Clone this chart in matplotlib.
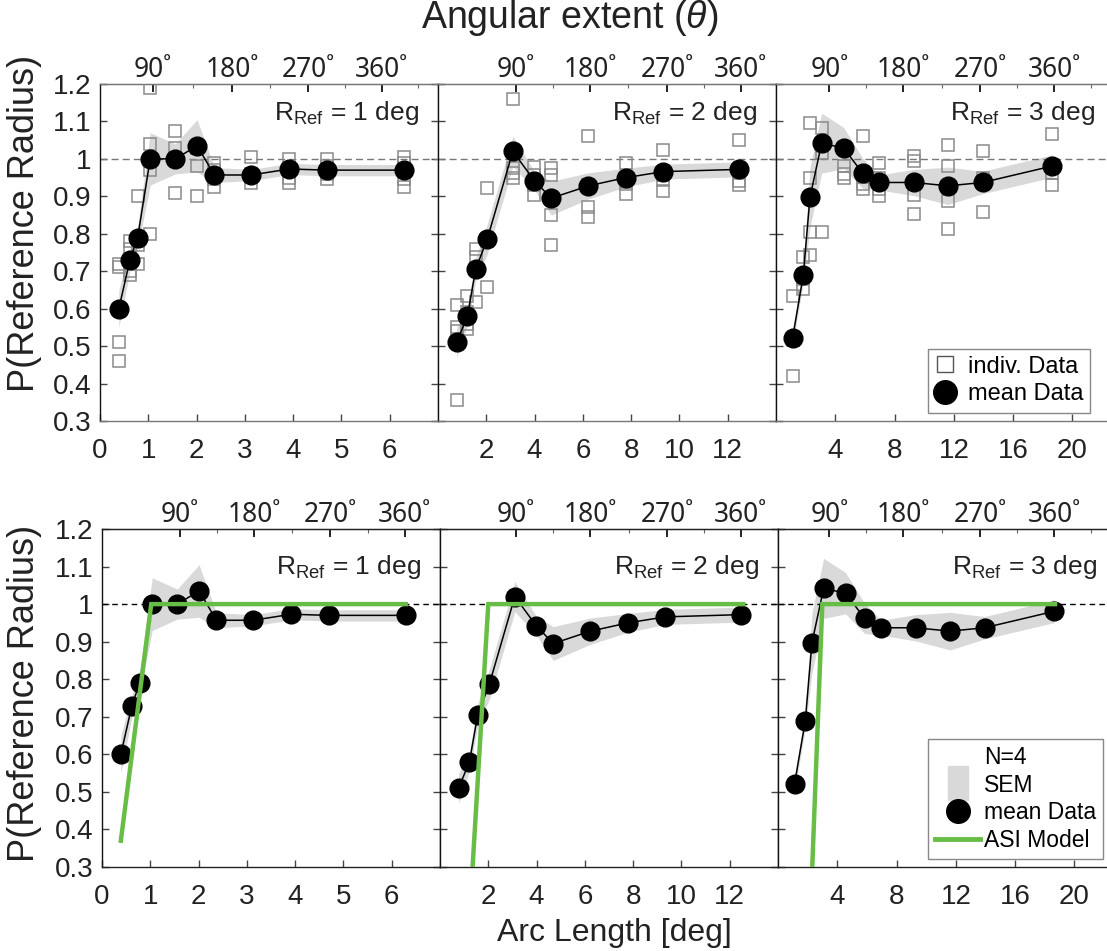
import matplotlib
matplotlib.use("Agg")
import matplotlib.pyplot as plt
from matplotlib.lines import Line2D
import numpy as np

plt.rcParams["font.family"] = ["Liberation Sans", "DejaVu Sans"]
plt.rcParams["mathtext.fontset"] = "custom"
plt.rcParams["mathtext.rm"] = "Liberation Sans"
plt.rcParams["mathtext.it"] = "Liberation Sans:italic"

# ----------------------------------------------------------------------------
# Data
# ----------------------------------------------------------------------------
RADII = [1, 2, 3]

ARC_R1 = [0.39, 0.62, 0.78, 1.04, 1.56, 2.01, 2.37, 3.13, 3.92, 4.70, 6.29]
ARC_R2 = [0.77, 1.22, 1.56, 2.04, 3.10, 3.99, 4.69, 6.23, 7.78, 9.33, 12.47]
ARC_R3 = [1.12, 1.84, 2.29, 3.08, 4.56, 5.84, 6.96, 9.28, 11.61, 13.93, 18.65]

MEAN_R1 = [0.60, 0.73, 0.79, 1.00, 1.00, 1.035, 0.957, 0.957, 0.973, 0.97, 0.97]
MEAN_R2 = [0.51, 0.58, 0.705, 0.786, 1.02, 0.942, 0.895, 0.928, 0.95, 0.966, 0.972]
MEAN_R3 = [0.522, 0.689, 0.897, 1.042, 1.029, 0.962, 0.937, 0.937, 0.928, 0.937, 0.981]

SEM_R1 = [0.05, 0.03, 0.03, 0.07, 0.04, 0.07, 0.02, 0.015, 0.015, 0.015, 0.015]
SEM_R2 = [0.04, 0.025, 0.03, 0.04, 0.04, 0.025, 0.045, 0.035, 0.025, 0.02, 0.02]
SEM_R3 = [0.02, 0.02, 0.08, 0.08, 0.055, 0.04, 0.02, 0.035, 0.05, 0.03, 0.03]

# individual subjects (N=4), one row per arc length
IND_R1 = [[0.72, 0.71, 0.51, 0.46], [0.78, 0.76, 0.69, 0.70], [0.90, 0.78, 0.72, 0.77],
          [1.19, 1.04, 0.97, 0.80], [1.075, 1.03, 1.00, 0.91], [1.03, 1.03, 0.98, 0.90],
          [0.99, 0.97, 0.945, 0.925], [1.005, 0.96, 0.955, 0.935], [1.00, 0.97, 0.95, 0.935],
          [1.00, 0.98, 0.96, 0.945], [1.005, 0.99, 0.945, 0.925]]
IND_R2 = [[0.61, 0.55, 0.54, 0.355], [0.635, 0.59, 0.56, 0.546], [0.76, 0.738, 0.705, 0.617],
          [0.921, 0.786, 0.78, 0.658], [1.16, 0.975, 0.962, 0.949], [0.979, 0.957, 0.93, 0.903],
          [0.975, 0.957, 0.85, 0.77], [1.06, 0.93, 0.872, 0.845], [0.99, 0.95, 0.934, 0.907],
          [1.024, 0.957, 0.944, 0.915], [1.051, 0.966, 0.94, 0.931]]
IND_R3 = [[0.635, 0.52, 0.515, 0.421], [0.738, 0.689, 0.68, 0.653], [1.096, 0.948, 0.805, 0.742],
          [1.082, 1.035, 1.017, 0.805], [1.03, 0.98, 0.96, 0.95], [1.06, 0.952, 0.934, 0.92],
          [0.989, 0.948, 0.92, 0.902], [1.008, 0.995, 0.903, 0.854], [1.038, 0.98, 0.888, 0.812],
          [1.02, 0.948, 0.935, 0.859], [1.067, 0.975, 0.962, 0.93]]

# ASI model (piecewise linear)
ASI_X_R1 = [0.39, 1.02, 6.29]
ASI_Y_R1 = [0.37, 1.0, 1.0]
ASI_X_R2 = [1.35, 2.0, 12.56]
ASI_Y_R2 = [0.30, 1.0, 1.0]
ASI_X_R3 = [2.31, 2.99, 18.69]
ASI_Y_R3 = [0.30, 1.0, 1.0]

# axis ticks
XLIMS = [7, 14, 22.8]
XTICKS = [[0, 1, 2, 3, 4, 5, 6], [2, 4, 6, 8, 10, 12], [4, 8, 12, 16, 20]]
YTICKS = [0.3, 0.4, 0.5, 0.6, 0.7, 0.8, 0.9, 1.0, 1.1, 1.2]
DEG_LABELS = ["90˚", "180˚", "270˚", "360˚"]
DEG_POS_TOP = [[1.10, 2.74, 4.31, 5.83], [3.22, 6.30, 9.48, 12.54], [3.60, 8.59, 13.77, 18.76]]
DEG_POS_BOT = [[1.61, 3.15, 4.73, 6.27], [3.15, 6.21, 9.42, 12.46], [3.46, 8.45, 13.63, 18.62]]

ARCS = [ARC_R1, ARC_R2, ARC_R3]
MEANS = [MEAN_R1, MEAN_R2, MEAN_R3]
SEMS = [SEM_R1, SEM_R2, SEM_R3]
INDS = [IND_R1, IND_R2, IND_R3]
ASI_X = [ASI_X_R1, ASI_X_R2, ASI_X_R3]
ASI_Y = [ASI_Y_R1, ASI_Y_R2, ASI_Y_R3]

GREEN = "#67bd45"
SEM_GREY = "#d9d9d9"
W, H = 1107, 951


def px_axes(fig, left, top, right, bottom):
    return fig.add_axes([left / W, 1 - bottom / H, (right - left) / W, (bottom - top) / H])


def style_axes(ax, i, deg_pos, spine_col, r_y):
    ax.set_xlim(0, XLIMS[i])
    ax.set_ylim(0.3, 1.2)
    ax.set_xticks(XTICKS[i])
    ax.set_xticklabels([str(t) for t in XTICKS[i]])
    ax.set_yticks(YTICKS)
    if i == 0:
        ax.set_yticklabels([f"{v:g}" for v in YTICKS])
    else:
        ax.set_yticklabels([])
    ax.tick_params(direction="in", length=5, width=1, labelsize=20, pad=12,
                   right=True, color="#444444", labelcolor="#222222")
    ax.tick_params(axis="y", pad=6)
    for s in ax.spines.values():
        s.set_color(spine_col)
        s.set_linewidth(1.0)
    ax.spines["left"].set_color("#111111")
    sec = ax.secondary_xaxis("top")
    sec.set_xticks(deg_pos)
    sec.set_xticklabels(DEG_LABELS, fontfamily="Noto Sans")
    mids = [(a + b) / 2 for a, b in zip(deg_pos[:-1], deg_pos[1:])]
    mids.append(deg_pos[-1] + (deg_pos[-1] - deg_pos[-2]) / 2)
    sec.set_xticks(mids, minor=True)
    sec.tick_params(direction="in", length=6, width=1.4, labelsize=19, pad=0,
                    color="#222222", labelcolor="#222222")
    sec.tick_params(which="minor", direction="in", length=3, width=0.8, color="#666666")
    sec.spines["top"].set_color(spine_col)
    ax.text(0.944, r_y, r"R$_{\mathrm{Ref}}$ = %d deg" % RADII[i],
            transform=ax.transAxes, ha="right", va="baseline", fontsize=19, color="#222222")


fig = plt.figure(figsize=(W / 100, H / 100), dpi=100)

# ---------------------------------------------------------------- top row
top_cols = [(100, 438), (438, 776), (776, 1114)]
for i in range(3):
    ax = px_axes(fig, top_cols[i][0], 84, top_cols[i][1], 421)
    x = np.array(ARCS[i]); m = np.array(MEANS[i]); s = np.array(SEMS[i])
    ax.fill_between(x, m - s, m + s, color=SEM_GREY, lw=0, zorder=1)
    ax.axhline(1.0, color="#777777", lw=1.0, ls=(0, (5, 3)), zorder=2)
    ind = np.array(INDS[i])
    for k in range(ind.shape[1]):
        ax.plot(x, ind[:, k], ls="none", marker="s", ms=8.5, mfc="none",
                mec="#8a8a8a", mew=1.1, zorder=3)
    ax.plot(x, m, color="black", lw=1.1, marker="o", ms=13.5, zorder=4)
    style_axes(ax, i, DEG_POS_TOP[i], "#777777", 0.893)
    if i == 2:
        handles = [Line2D([], [], ls="none", marker="s", ms=11, mfc="none", mec="#555555",
                          label="indiv. Data"),
                   Line2D([], [], ls="none", marker="o", ms=17, color="black", label="mean Data")]
        leg = ax.legend(handles=handles, loc="lower right", bbox_to_anchor=(0.93, 0.025),
                        fontsize=17, frameon=True, fancybox=False, framealpha=1,
                        edgecolor="#888888", handlelength=0.9, handletextpad=0.5,
                        borderpad=0.3, labelspacing=0.25, borderaxespad=0.0)
        leg.get_frame().set_linewidth(1.0)

# ---------------------------------------------------------------- bottom row
bot_cols = [(102, 440), (440, 778), (778, 1116)]
for i in range(3):
    ax = px_axes(fig, bot_cols[i][0], 529, bot_cols[i][1], 867)
    x = np.array(ARCS[i]); m = np.array(MEANS[i]); s = np.array(SEMS[i])
    ax.fill_between(x, m - s, m + s, color=SEM_GREY, lw=0, zorder=1)
    ax.axhline(1.0, color="black", lw=1.0, ls=(0, (4, 3)), zorder=2)
    ax.plot(x, m, color="black", lw=1.1, marker="o", ms=13.5, zorder=3)
    ax.plot(ASI_X[i], ASI_Y[i], color=GREEN, lw=3.2, zorder=4, solid_joinstyle="miter")
    style_axes(ax, i, DEG_POS_BOT[i], "#222222", 0.866)
    if i == 2:
        sem_marker = [(-0.28, -0.5), (0.28, -0.5), (0.28, 0.5), (-0.28, 0.5), (-0.28, -0.5)]
        handles = [Line2D([], [], ls="none", label="N=4"),
                   Line2D([], [], ls="none", marker=sem_marker, ms=25, color=SEM_GREY,
                          mec=SEM_GREY, label="SEM"),
                   Line2D([], [], ls="none", marker="o", ms=17, color="black", label="mean Data"),
                   Line2D([], [], color=GREEN, lw=3.5, label="ASI Model")]
        leg = ax.legend(handles=handles, loc="lower left", bbox_to_anchor=(0.443, 0.025),
                        fontsize=16.5, frameon=True, fancybox=False, framealpha=1,
                        edgecolor="#888888", handlelength=2.0, handletextpad=0.15,
                        borderpad=0.3, labelspacing=0.2, borderaxespad=0.0)
        leg.get_frame().set_linewidth(1.0)

# ---------------------------------------------------------------- labels
fig.text(570 / W, 1 - 18 / H, r"Angular extent ($\theta$)", ha="center", va="center",
         fontsize=27, color="#222222")
fig.text(614 / W, 1 - 933 / H, "Arc Length [deg]", ha="center", va="center",
         fontsize=23, color="#222222")
fig.text(25 / W, 1 - 223 / H, "P(Reference Radius)", rotation=90, ha="center",
         va="center", fontsize=26, color="#222222")
fig.text(25 / W, 1 - 693 / H, "P(Reference Radius)", rotation=90, ha="center",
         va="center", fontsize=26, color="#222222")

fig.savefig("out.png", dpi=100)
